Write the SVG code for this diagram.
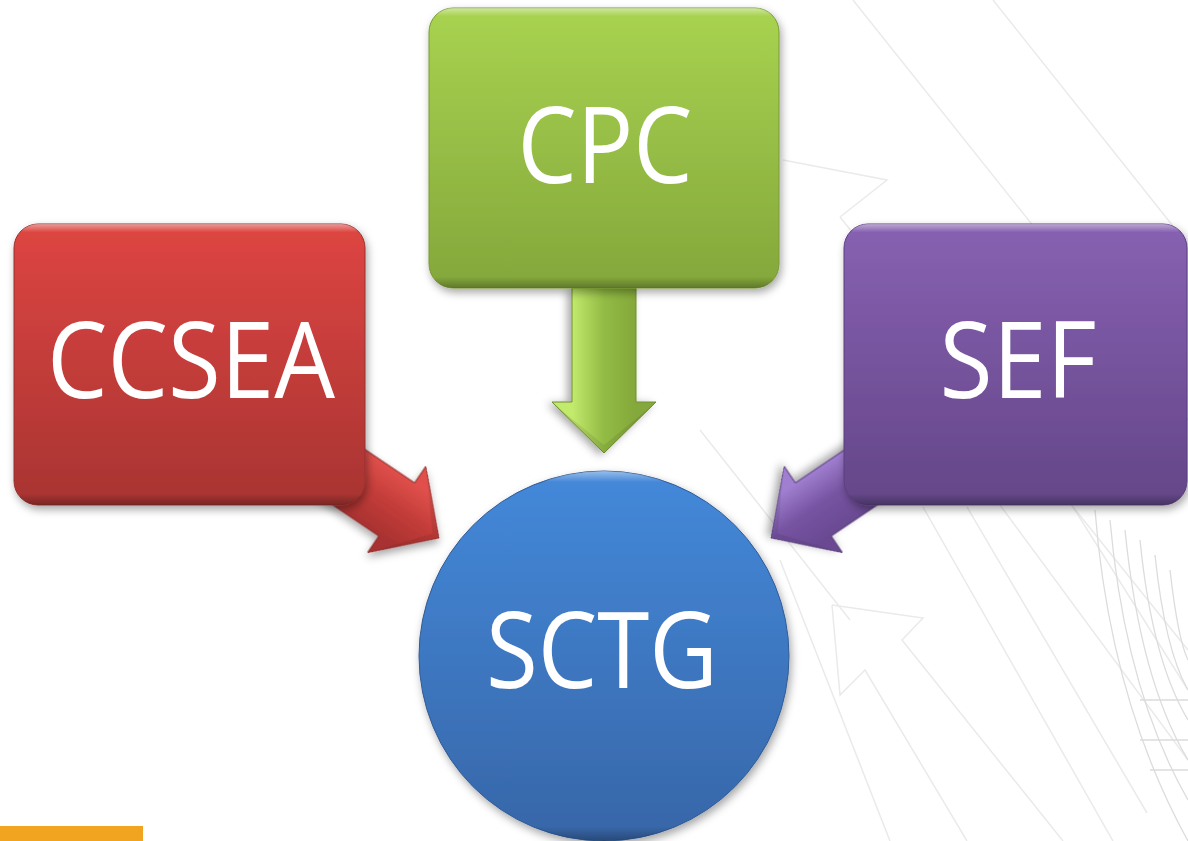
<svg xmlns="http://www.w3.org/2000/svg" width="1188" height="841" viewBox="0 0 1188 841">
<defs>
<style>
.lbl{font-family:"Open Sans","Liberation Sans",sans-serif;font-size:106px;fill:#ffffff;text-anchor:middle}
.bg{fill:none;stroke:#eaeaea;stroke-width:1.5}
.bg2{fill:none;stroke:#dcdcdc;stroke-width:1.3}
</style>
<filter id="sh" x="-20%" y="-20%" width="140%" height="140%">
<feDropShadow dx="2" dy="4" stdDeviation="4" flood-color="#000" flood-opacity="0.35"/>
</filter>
<linearGradient id="gGreen" x1="0" y1="0" x2="0" y2="1"><stop offset="0" stop-color="#a8d350"/><stop offset="1" stop-color="#84a73b"/></linearGradient>
<linearGradient id="gRed" x1="0" y1="0" x2="0" y2="1"><stop offset="0" stop-color="#de4542"/><stop offset="1" stop-color="#a83432"/></linearGradient>
<linearGradient id="gPurple" x1="0" y1="0" x2="0" y2="1"><stop offset="0" stop-color="#8761b2"/><stop offset="1" stop-color="#644688"/></linearGradient>
<linearGradient id="gBlue" x1="0" y1="0" x2="0" y2="1"><stop offset="0" stop-color="#4489da"/><stop offset="1" stop-color="#3766a8"/></linearGradient>
<linearGradient id="bevel" x1="0" y1="0" x2="0" y2="1">
<stop offset="0" stop-color="#fff" stop-opacity="0.45"/><stop offset="0.03" stop-color="#fff" stop-opacity="0"/>
<stop offset="0.96" stop-color="#000" stop-opacity="0"/><stop offset="1" stop-color="#000" stop-opacity="0.28"/>
</linearGradient>
<linearGradient id="aGreen" gradientUnits="userSpaceOnUse" x1="0" y1="-32" x2="0" y2="32"><stop offset="0" stop-color="#84a83a"/><stop offset="0.5" stop-color="#92bb45"/><stop offset="1" stop-color="#c2ea6c"/></linearGradient>
<linearGradient id="aRed" gradientUnits="userSpaceOnUse" x1="0" y1="-32" x2="0" y2="32"><stop offset="0" stop-color="#e0504b"/><stop offset="0.5" stop-color="#c23c39"/><stop offset="1" stop-color="#a83230"/></linearGradient>
<linearGradient id="aPurple" gradientUnits="userSpaceOnUse" x1="0" y1="-32" x2="0" y2="32"><stop offset="0" stop-color="#6a4a92"/><stop offset="0.5" stop-color="#7653a1"/><stop offset="1" stop-color="#a07fd0"/></linearGradient>
</defs>
<rect width="1188" height="841" fill="#ffffff"/>
<g id="background">
<path class="bg" d="M853,0 L1188,420"/>
<path class="bg" d="M993,0 L1188,245"/>
<path class="bg" d="M783,160 L887,180 L840,217 M840,217 L1188,650"/>
<path class="bg" d="M780,560 L890,841"/>
<path class="bg" d="M832,605 L923,618 L902,640 L1063,841 M832,605 L840,695 L865,670 L967,841"/>
<path class="bg" d="M923,507 L1113,841"/>
<path class="bg" d="M967,507 L1147,813"/>
<path class="bg" d="M1073,507 L1188,690"/>
<path class="bg" d="M1000,505 L1188,760"/>
<path class="bg" d="M700,430 L850,620"/>
<path class="bg2" d="M1095,510 Q1110,700 1188,841 M1110,520 Q1125,690 1188,800 M1125,530 Q1140,680 1188,760 M1140,540 Q1152,660 1188,720 M1155,555 Q1165,650 1188,690 M1170,570 Q1178,640 1188,660"/>
<path class="bg2" d="M1140,700 L1188,700 M1140,740 L1188,740 M1150,770 L1188,770"/>
</g>
<rect id="bar" x="0" y="826" width="143" height="15" fill="#f1a41f"/>
<g id="connectors">
<g transform="translate(604,453) rotate(90)" filter="url(#sh)">
<polygon points="-165,-32 -51,-32 -51,-52 0,0 -51,52 -51,32 -165,32" fill="url(#aGreen)" stroke="#6f8f2e" stroke-width="1"/>
<polygon points="-51,-52 0,0 -51,52 -44,44 -8,0 -44,-44" fill="#000" fill-opacity="0.08"/>
</g>
<g transform="translate(439,538) rotate(34)" filter="url(#sh)">
<polygon points="-150,-32 -51,-32 -51,-52 0,0 -51,52 -51,32 -150,32" fill="url(#aRed)" stroke="#8e2a28" stroke-width="1"/>
<polygon points="-51,-52 0,0 -51,52 -44,44 -8,0 -44,-44" fill="#000" fill-opacity="0.08"/>
</g>
<g transform="translate(771,538) rotate(146)" filter="url(#sh)">
<polygon points="-150,-32 -51,-32 -51,-52 0,0 -51,52 -51,32 -150,32" fill="url(#aPurple)" stroke="#553a78" stroke-width="1"/>
<polygon points="-51,-52 0,0 -51,52 -44,44 -8,0 -44,-44" fill="#000" fill-opacity="0.08"/>
</g>
</g>
<g id="node-cpc">
<rect x="429" y="8" width="350" height="280" rx="24" fill="url(#gGreen)" stroke="#7a9a35" stroke-width="1" filter="url(#sh)"/>
<rect x="429" y="8" width="350" height="280" rx="24" fill="url(#bevel)"/>
<text class="lbl" x="605" y="183" textLength="175" lengthAdjust="spacingAndGlyphs">CPC</text>
</g>
<g id="node-ccsea">
<rect x="14" y="224" width="351" height="281" rx="24" fill="url(#gRed)" stroke="#9a302d" stroke-width="1" filter="url(#sh)"/>
<rect x="14" y="224" width="351" height="281" rx="24" fill="url(#bevel)"/>
<text class="lbl" x="191" y="398" textLength="288" lengthAdjust="spacingAndGlyphs">CCSEA</text>
</g>
<g id="node-sef">
<rect x="844" y="224" width="343" height="281" rx="24" fill="url(#gPurple)" stroke="#5b3f80" stroke-width="1" filter="url(#sh)"/>
<rect x="844" y="224" width="343" height="281" rx="24" fill="url(#bevel)"/>
<text class="lbl" x="1018" y="398" textLength="157" lengthAdjust="spacingAndGlyphs">SEF</text>
</g>
<g id="node-sctg">
<circle cx="604" cy="656" r="185" fill="url(#gBlue)" stroke="#2f5b96" stroke-width="1" filter="url(#sh)"/>
<circle cx="604" cy="656" r="185" fill="url(#bevel)"/>
<text class="lbl" x="602" y="688" textLength="232" lengthAdjust="spacingAndGlyphs">SCTG</text>
</g>
</svg>
